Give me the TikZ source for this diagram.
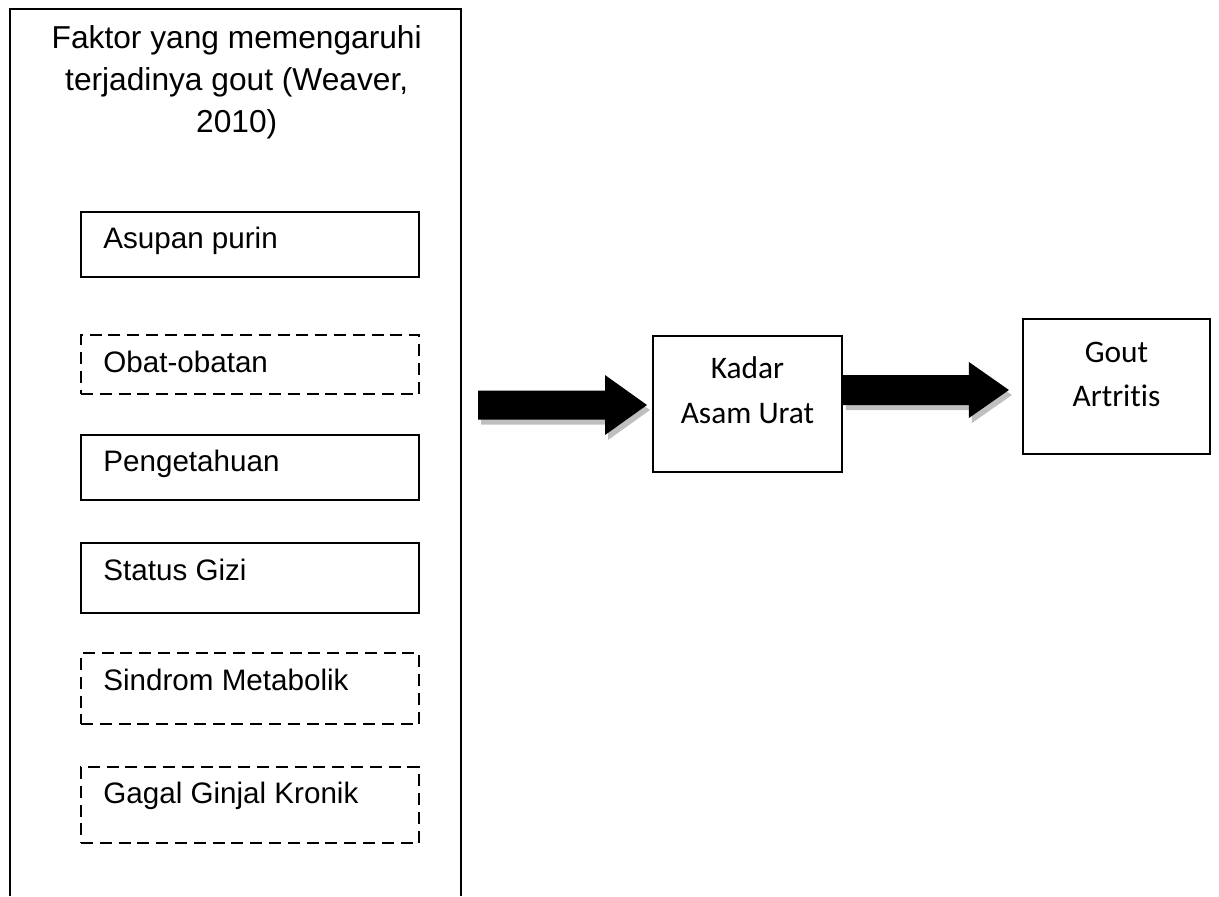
\documentclass[tikz,border=0pt]{standalone}
\usepackage{fontspec}
\setmainfont{Liberation Sans}
\newfontfamily\carlitofont[Ligatures=NoCommon]{Carlito}
\begin{document}
\begin{tikzpicture}[x=0.5pt,y=-0.5pt,
  frame/.style={draw=black,line width=0.9pt},
  itembox/.style={draw=black,line width=0.9pt,minimum width=169pt,inner sep=0pt},
  dashbox/.style={itembox,dash pattern=on 6pt off 3.4pt},
  itemtext/.style={anchor=base west,inner sep=0pt,font=\fontsize{14.8}{17}\selectfont},
  titletext/.style={anchor=base,inner sep=0pt,font=\fontsize{15.85}{19.5}\selectfont},
  rbox/.style={draw=black,line width=0.9pt,inner sep=0pt},
  rtext/.style={anchor=base,inner sep=0pt,font=\carlitofont\fontsize{15.7}{21}\selectfont},
  shadowfill/.style={fill=black!25},
  arrowfill/.style={fill=black}]
\useasboundingbox (0,0) rectangle (1219,896);
\fill[white] (0,0) rectangle (1219,896);

% outer frame (open at bottom, runs past the page)
\coordinate (obl) at (10,896);
\coordinate (otl) at (10,9);
\coordinate (otr) at (461,9);
\coordinate (obr) at (461,896);
\draw[frame] (obl) -- (otl) -- (otr) -- (obr);

% title
\node[titletext] (t1) at (236.7,48.5) {Faktor yang memengaruhi};
\node[titletext] (t2) at (236.7,90.5) {terjadinya gout (Weaver,};
\node[titletext] (t3) at (236.7,132) {2010)};

% factor boxes
\node[itembox,minimum height=32.5pt] (b1) at (250,244.5) {};
\node[itemtext] (l1) at (103,248) {Asupan purin};
\node[dashbox,minimum height=29.5pt] (b2) at (250,364.5) {};
\node[itemtext] (l2) at (103,372) {Obat-obatan};
\node[itembox,minimum height=32.5pt] (b3) at (250,467.5) {};
\node[itemtext] (l3) at (103,471) {Pengetahuan};
\node[itembox,minimum height=35pt] (b4) at (250,578) {};
\node[itemtext] (l4) at (103,580) {Status Gizi};
\node[dashbox,minimum height=35.5pt] (b5) at (250,688.5) {};
\node[itemtext] (l5) at (103,690) {Sindrom Metabolik};
\node[dashbox,minimum height=38pt] (b6) at (250,805) {};
\node[itemtext] (l6) at (103,803) {Gagal Ginjal Kronik};

% right boxes
\node[rbox,minimum width=94.5pt,minimum height=68pt] (kadar) at (747.5,404) {};
\node[rtext] (k1) at (747.5,378) {Kadar};
\node[rtext] (k2) at (747.5,423) {Asam Urat};
\node[rbox,minimum width=93.5pt,minimum height=67.5pt] (gout) at (1116.5,386.5) {};
\node[rtext] (g1) at (1116.5,362) {Gout};
\node[rtext] (g2) at (1116.5,406) {Artritis};

% block arrow 1 (free start, into Kadar box)
\coordinate (a1s) at (478,405);
\begin{scope}[shift={(a1s)}]
  \fill[shadowfill,shift={(3,5)}] (0,-14.5) -- (127,-14.5) -- (127,-30) -- (169,0) -- (127,30) -- (127,14.5) -- (0,14.5) -- cycle;
  \fill[arrowfill] (0,-14.5) -- (127,-14.5) -- (127,-30) -- (169,0) -- (127,30) -- (127,14.5) -- (0,14.5) -- cycle;
\end{scope}

% block arrow 2 (from Kadar box toward Gout box)
\coordinate (a2s) at (kadar.east |- 0,390);
\begin{scope}[shift={(a2s)}]
  \fill[shadowfill,shift={(3,5)}] (0,-15) -- (126,-15) -- (126,-28) -- (166,0) -- (126,28) -- (126,15) -- (0,15) -- cycle;
  \fill[arrowfill] (0,-15) -- (126,-15) -- (126,-28) -- (166,0) -- (126,28) -- (126,15) -- (0,15) -- cycle;
\end{scope}
\end{tikzpicture}
\end{document}
